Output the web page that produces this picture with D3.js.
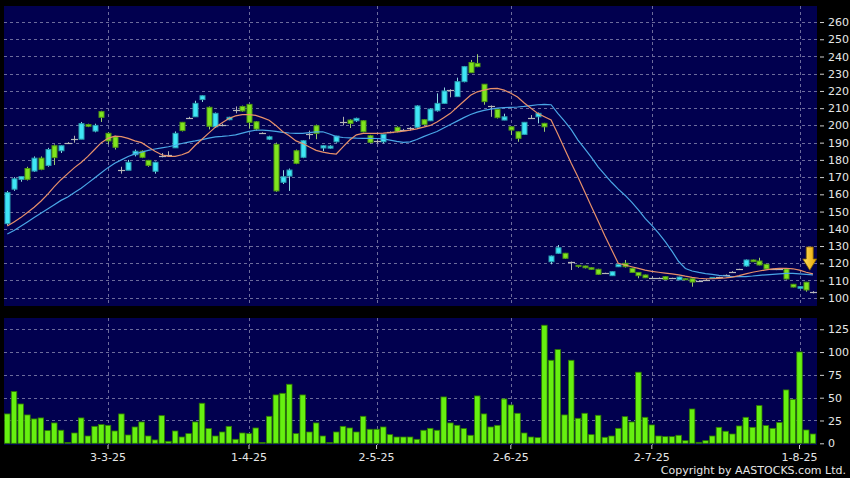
<!DOCTYPE html>
<html><head><meta charset="utf-8">
<script src="https://cdn.jsdelivr.net/npm/d3@7"></script>
<style>body{margin:0;background:#000;} svg{display:block}</style>
</head><body>
<svg id="c" width="850" height="478"></svg>
<script>
const dates = ["10-2-25","11-2-25","12-2-25","13-2-25","14-2-25","17-2-25","18-2-25","19-2-25","20-2-25","21-2-25","24-2-25","25-2-25","26-2-25","27-2-25","28-2-25",
"3-3-25","4-3-25","5-3-25","6-3-25","7-3-25","10-3-25","11-3-25","12-3-25","13-3-25","14-3-25","17-3-25","18-3-25","19-3-25","20-3-25","21-3-25","24-3-25","25-3-25","26-3-25","27-3-25","28-3-25","31-3-25",
"1-4-25","2-4-25","3-4-25","7-4-25","8-4-25","9-4-25","10-4-25","11-4-25","14-4-25","15-4-25","16-4-25","17-4-25","22-4-25","23-4-25","24-4-25","25-4-25","28-4-25","29-4-25","30-4-25",
"2-5-25","6-5-25","7-5-25","8-5-25","9-5-25","12-5-25","13-5-25","14-5-25","15-5-25","16-5-25","19-5-25","20-5-25","21-5-25","22-5-25","23-5-25","26-5-25","27-5-25","28-5-25","29-5-25","30-5-25",
"2-6-25","3-6-25","4-6-25","5-6-25","6-6-25","9-6-25","10-6-25","11-6-25","12-6-25","13-6-25","16-6-25","17-6-25","18-6-25","19-6-25","20-6-25","23-6-25","24-6-25","25-6-25","26-6-25","27-6-25","30-6-25",
"2-7-25","3-7-25","4-7-25","7-7-25","8-7-25","9-7-25","10-7-25","11-7-25","14-7-25","15-7-25","16-7-25","17-7-25","18-7-25","21-7-25","22-7-25","23-7-25","24-7-25","25-7-25","28-7-25","29-7-25","30-7-25","31-7-25",
"1-8-25","4-8-25","5-8-25"];

const open  = [143,163,168.7,175,173.5,181,176.8,188.2,185.3,190,192,192,200.5,196.7,208,195.4,193.4,174,174,183,185,179.7,173.4,182,183,187,201.8,204.5,205,215,210.5,199.2,200.2,203.3,208.8,211,212.2,202.1,195.4,192,189,167,170.6,185.3,181.5,194.8,199.8,186.9,186.8,190.5,202,203.1,202.7,202.7,194,190.8,190.5,196,198.9,197.5,198.5,198.9,203.3,202.7,208.5,212.8,220.5,216.7,225.4,236.5,236,223.9,211.4,209.3,203.1,199.2,196.3,194.8,204.5,205,201.2,120.9,125.8,125.8,120.5,118.8,118.4,117.4,116.5,114.2,112.8,118,120,117.1,114.7,113.2,111.6,111.6,112.2,111.3,110.4,111,111,109.9,110.5,111.5,111.8,113.2,115.1,116.5,118.4,121.9,121.3,119.4,116.5,116.5,116.7,107.8,105.5,109,103.5];
const high  = [162,170,170.5,176,182,182,187,189,188.5,190.3,194,202,201,201,208.5,196,194,176,180,186,185.5,180,179,184,185,196.5,202,205,214.3,217.5,211,207.5,201,205,211,211.5,212.5,202.5,196,194,190,174,175,186,191.5,197,200.5,188.5,188.5,194,205,203.5,204.5,203,194.5,191.5,195,196.5,199.5,198,199,211.7,203.5,210,218.6,222,221,227.7,234.5,238,241.3,224,211.6,209.5,206.8,199.5,196.5,202,206,207.5,201.5,124.5,130.6,126,121,119,118.6,117.6,116.8,114.5,115.3,119.6,121.9,117.3,114.9,113.4,112.5,111.8,112.4,111.6,112.2,111.2,111.2,110.2,110.8,111.8,112.2,113.5,115.4,116.8,122.2,122.1,123.2,119.6,116.8,116.8,116.9,108,106.6,109.2,103.8];
const low   = [142,162,167.3,168,173,174,176,177,184,189.7,190,192,199,196,202,189,186,172,174,182,181,176,172,181.5,182.5,187,196.5,204,205,213.6,197.7,198.5,199.5,203,207,208,198.3,197,195,191.5,161.5,166,162,177.5,181,192,192,185,186.5,190,200,198.5,202,196,189.5,189.5,189.5,195.5,196,197,197,198,200,202.5,208,212.5,216.3,216.5,225,230.5,233.8,212,205,204,203,194.4,190.5,194.5,204,201.2,196.3,119.4,125.5,122.5,116.1,117.4,117,116.3,113.3,114,112.6,117.8,117.5,114.5,111.3,111.4,110.8,111.4,110.5,111,110.2,110.5,106.4,109.6,110.2,111.2,111.5,112.9,114.8,116.2,118,120.8,118.8,116.5,116.2,116.2,110.6,106,105.3,103.5,102.5];
const close = [161,169,170.3,168.7,181,174.5,186,181.3,188.2,190,192,201,199.5,200,204.7,191,187.3,174,178.6,185,181.5,176.8,178.6,182,183,195.4,197,204.5,212.8,217.2,199.5,207,200.2,204.7,208.8,208.4,201.8,197.9,195.4,193.4,162,170.2,174.1,178,191.1,194.8,195.4,188.2,188,193.8,202,201.2,204.1,196.3,190.2,190.8,194.8,196,196.3,197.5,198.5,211.3,200.6,209.5,212.8,220,220.5,225.4,234.1,230.6,234.1,213.8,211.4,204.5,205,197.3,192.5,201.8,204.5,207,199.2,124.2,129,122.9,120.5,118.4,117.4,116.5,113.6,114.2,115.1,119.4,118,114.7,112.8,111.6,111.6,111.6,110.7,111.3,112,110.8,109.1,109.9,110.5,111.8,111.8,113.2,115.1,116.5,121.9,120.9,119,116.7,116.5,116.5,110.9,106.2,106.4,104.5,103.5];
const volume = [32.2,56.7,43.1,31.1,26.7,27.8,13.9,22.3,14.3,1,11.3,27.8,8,18.6,20.5,19.7,13.5,32.2,9.1,17.9,23.4,8,3.7,30.3,2.2,13.5,6.9,10.6,23.4,43.9,16.1,8,12.4,18.6,4.4,11.3,10.6,16.8,1,29.6,53,54.8,64.7,10.6,53,12.4,22.3,8,1,12.4,18.6,16.8,12.4,29.6,15.4,15.4,17.9,9.5,6.9,6.9,6.9,4.4,
14.3,16.4,14.3,50.8,22.3,19.7,16.1,8.8,51.9,32.2,17.9,19.7,48.6,42,32.9,11.3,6.9,6.2,
129.4,91,102.7,31.1,91,27.4,32.9,9.5,30.7,6.6,8,16.4,29.2,23.4,77.9,28.5,20.1,8,7.3,7.3,8.8,2.9,37.6,1.1,2.9,8,17.5,13.2,10.2,19,28.5,17.5,41.3,19.4,16.4,22.7,58.5,48.2,100.1,14.6,10.2];
const ma10 = [141.6,144,146.5,149.5,152.5,156,160,164.5,168.5,172,175.5,178.5,182,186,190,192.5,193.8,193.5,192.5,191,190,187.5,185,183,182,182,183,184.5,188.5,192,195.5,199,201.5,204,205.5,206.3,206.3,205.8,204.5,203,200,196.5,194,191,189.5,187.5,185.5,184.5,183.8,183.4,187.5,191.5,194.5,195.4,195.4,195.4,195.5,195.8,196.2,196.7,197.3,198,199,200,202,204.5,207,210.5,214,217.5,219.5,220.5,221.3,221.5,220.5,218.7,216.5,213,210,207,205,203.1,195,186.5,178,170,161.5,153,144.5,136,128,120,119,118,117,116,115.3,114.8,114.3,113.8,113.3,112.5,111.8,111.3,111,111,111.2,111.5,112,112.8,113.8,114.8,115.5,116.2,116.7,117,117.1,116.8,116,114.8,113.8];
const ma20 = [137,139,141.5,144,146.5,149,151.5,154,156.5,158.5,161,163.5,166.5,169.5,172.5,175.5,178,180,182,183.5,184.5,185.5,186.3,187,187.6,188.5,189.5,190.3,191,191.8,192.6,193.3,193.6,194,194.5,195.5,196.5,197.2,197.3,197,196.5,196,195.6,195.4,195.4,195.8,196.2,196.3,195,193.5,193,192.8,192.6,192.5,192.5,192.4,192.2,191.5,190.7,190.2,190.5,191.8,193.5,195,196.5,198.5,200.5,202.5,204.5,206.3,207.7,208.7,209.5,210,210.3,210.5,210.7,211,211.5,212,212.2,212,207,202.5,197.5,191.5,186.5,181.5,176,171.5,167,163,159.5,155.5,151,146,142,137.5,132.5,127,121,117,115.5,114.7,114,113.5,113,112.6,112.3,112.2,112.3,112.6,113,113.3,113.6,113.9,114.1,114.1,113.9,113.6,113.3];
const priceTicks = [100,110,120,130,140,150,160,170,180,190,200,210,220,230,240,250,260];
const volumeTicks = [0,25,50,75,100,125];
const dateTicks = ["3-3-25","1-4-25","2-5-25","2-6-25","2-7-25","1-8-25"];

const svg = d3.select("#c");
svg.append("rect").attr("width",850).attr("height",478).attr("fill","#000");
const L = 4, R = 817, pT = 6, pB = 306, vT = 318, vB = 445;
const panelFill = "#01004f", gridCol = "#6c6c9c", txtCol = "#e6e6e6";
const x = d3.scaleBand().domain(dates).range([3.94, 816.3]);
const cx = d => x(d) + x.bandwidth() / 2;
const y = d3.scaleLinear().domain([95.2, 269.3]).range([pB, pT]);
const yv = d3.scaleLinear().domain([0, 137]).range([443.3, 318.3]);

svg.append("rect").attr("x",L).attr("y",pT).attr("width",R-L).attr("height",pB-pT).attr("fill",panelFill);
svg.append("rect").attr("x",L).attr("y",vT).attr("width",R-L).attr("height",vB-vT).attr("fill",panelFill);
const defs = svg.append("defs");
defs.append("clipPath").attr("id","cp").append("rect").attr("x",L).attr("y",pT).attr("width",R-L).attr("height",pB-pT);
defs.append("clipPath").attr("id","cv").append("rect").attr("x",L).attr("y",vT).attr("width",R-L).attr("height",vB-vT);

// grids
const grid = svg.append("g").attr("stroke",gridCol).attr("stroke-width",1).attr("stroke-dasharray","3,3").attr("shape-rendering","crispEdges");
grid.selectAll(".hp").data(priceTicks).join("line").attr("x1",L).attr("x2",R).attr("y1",d=>Math.round(y(d))+0.5).attr("y2",d=>Math.round(y(d))+0.5);
grid.selectAll(".hv").data(volumeTicks.slice(1)).join("line").attr("class","hv").attr("x1",L).attr("x2",R).attr("y1",d=>Math.round(yv(d))+0.5).attr("y2",d=>Math.round(yv(d))+0.5);
grid.selectAll(".vp").data(dateTicks).join("line").attr("class","vp").attr("x1",d=>Math.round(cx(d))+0.5).attr("x2",d=>Math.round(cx(d))+0.5).attr("y1",pT).attr("y2",pB);
grid.selectAll(".vv").data(dateTicks).join("line").attr("class","vv").attr("x1",d=>Math.round(cx(d))+0.5).attr("x2",d=>Math.round(cx(d))+0.5).attr("y1",vT).attr("y2",vB);

// candles
const idx = d3.range(dates.length);
const cg = svg.append("g").attr("clip-path","url(#cp)");
cg.selectAll(".w").data(idx).join("line")
  .attr("x1",i=>Math.round(cx(dates[i]))+0.5).attr("x2",i=>Math.round(cx(dates[i]))+0.5)
  .attr("y1",i=>y(high[i])).attr("y2",i=>y(low[i]))
  .attr("stroke",i=>close[i]>open[i]?"#8fd8e0":(close[i]<open[i]?"#9ccc70":"#b0b0b0")).attr("stroke-width",1);
cg.selectAll(".b").data(idx.filter(i=>close[i]!==open[i])).join("rect")
  .attr("x",i=>Math.round(cx(dates[i]))-2).attr("width",5)
  .attr("y",i=>y(Math.max(open[i],close[i]))).attr("height",i=>Math.max(1,Math.abs(y(open[i])-y(close[i]))))
  .attr("fill",i=>close[i]>open[i]?"#3fe6f6":"#80e41e")
  .attr("stroke",i=>close[i]>open[i]?"#2a9fb0":"#4f9a12").attr("stroke-width",1);
cg.selectAll(".d").data(idx.filter(i=>close[i]===open[i])).join("line")
  .attr("x1",i=>Math.round(cx(dates[i]))-3).attr("x2",i=>Math.round(cx(dates[i]))+4)
  .attr("y1",i=>Math.round(y(open[i]))+0.5).attr("y2",i=>Math.round(y(open[i]))+0.5)
  .attr("stroke","#b8b8b8").attr("stroke-width",1.2);

// moving averages
const line = arr => d3.line().x((v,i)=>cx(dates[i])).y(v=>y(v))(arr);
cg.append("path").attr("d",line(ma20)).attr("fill","none").attr("stroke","#4aa6e6").attr("stroke-width",1.2);
cg.append("path").attr("d",line(ma10)).attr("fill","none").attr("stroke","#e8906a").attr("stroke-width",1.2);

// volume
const vg = svg.append("g").attr("clip-path","url(#cv)");
vg.selectAll("rect").data(idx).join("rect")
  .attr("x",i=>x(dates[i])+0.6).attr("width",x.bandwidth()-1.2)
  .attr("y",i=>yv(volume[i])).attr("height",i=>Math.max(0.5,yv(0)-yv(volume[i])))
  .attr("fill","#66f010").attr("stroke","#2f7a00").attr("stroke-width",0.8);

// axes
function styleAxis(g){
  g.select(".domain").remove();
  g.selectAll(".tick line").attr("stroke","#cfcfcf");
  g.selectAll(".tick text").attr("fill",txtCol).style("font-family","DejaVu Sans, Verdana, sans-serif").style("font-size","11px");
}
svg.append("g").attr("transform",`translate(820,0)`).call(d3.axisRight(y).tickValues(priceTicks).tickSize(4).tickPadding(4)).call(styleAxis);
svg.append("g").attr("transform",`translate(820,0)`).call(d3.axisRight(yv).tickValues(volumeTicks).tickSize(4).tickPadding(4)).call(styleAxis);
svg.append("g").attr("transform",`translate(0,${vB})`).call(d3.axisBottom(x).tickValues(dateTicks).tickSize(4).tickPadding(4)).call(styleAxis);

svg.append("text").attr("x",846).attr("y",474).attr("text-anchor","end").attr("fill",txtCol)
  .style("font-family","DejaVu Sans, Verdana, sans-serif").style("font-size","11px").text("Copyright by AASTOCKS.com Ltd.");

// arrow marker above the last bars
const grad = defs.append("linearGradient").attr("id","ag").attr("x1",0).attr("x2",1).attr("y1",0).attr("y2",0);
grad.append("stop").attr("offset","0%").attr("stop-color","#ffe060");
grad.append("stop").attr("offset","100%").attr("stop-color","#e8a400");
const ax = cx(dates[dates.length-2]) + 3.5, aTop = y(129.5), aNeck = y(122.5), aTip = y(116);
svg.append("path")
  .attr("d",`M${ax-3.5},${aTop} L${ax+3.5},${aTop} L${ax+3.5},${aNeck} L${ax+7},${aNeck} L${ax},${aTip} L${ax-7},${aNeck} L${ax-3.5},${aNeck} Z`)
  .attr("fill","url(#ag)").attr("stroke","#7a5a00").attr("stroke-width",0.8);
</script>
</body></html>
